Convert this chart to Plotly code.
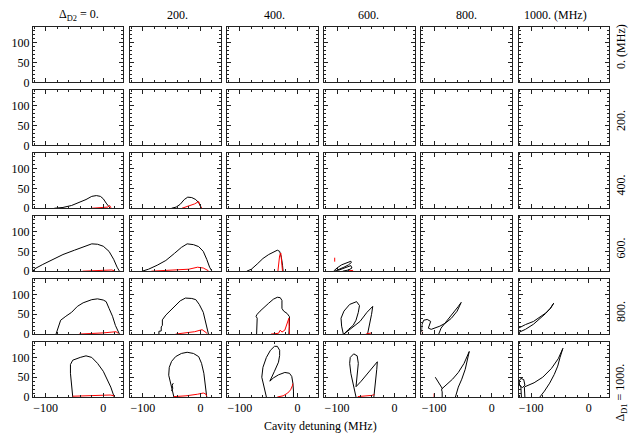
import plotly.graph_objects as go
from plotly.subplots import make_subplots

# ---------------- data ----------------
D2_labels = ["Δ<sub>D2</sub> = 0.", "200.", "400.", "600.", "800.", "1000. (MHz)"]
D1_labels = ["0. (MHz)", "200.", "400.", "600.", "800.", "Δ<sub>D1</sub> = 1000."]
x_range = [-122, 35]
y_range = [0, 140]

# Row D1=400 MHz
blk_400_0 = [(-85, 0), (-70, 2), (-55, 7), (-40, 15), (-30, 22), (-20, 30), (-12, 32), (-5, 30), (0, 24), (5, 13), (10, 3), (12, 0)]
red_400_0 = [(-20, 0), (0, 1), (8, 3), (11, 7), (13, 2), (12, 0)]
blk_400_200 = [(-50, 0), (-42, 3), (-35, 10), (-28, 22), (-22, 28), (-15, 27), (-8, 22), (-3, 14), (0, 5), (2, 0)]
red_400_200 = [(-32, 0), (-20, 5), (-10, 11), (-3, 17), (0, 8), (2, 0)]

# Row D1=600 MHz
blk_600_0 = [(-122, 0), (-119, 6), (-105, 17), (-88, 29), (-70, 42), (-50, 53), (-35, 62), (-20, 69), (-10, 68), (0, 63), (10, 50), (18, 30), (24, 10), (28, 0)]
red_600_0 = [(-36, 0), (-10, 2), (5, 4), (15, 3), (20, 0)]
blk_600_200 = [(-101, 0), (-90, 5), (-75, 15), (-60, 27), (-45, 45), (-33, 60), (-23, 69), (-12, 67), (-3, 62), (5, 50), (11, 30), (16, 10), (20, 0)]
red_600_200 = [(-85, 0), (-50, 2), (-20, 5), (-5, 10), (5, 8), (14, 1)]
blk_600_400 = [(-88, 0), (-80, 5), (-70, 18), (-60, 32), (-50, 42), (-40, 50), (-35, 53), (-31, 50), (-28, 35), (-26, 15), (-25, 0)]
red_600_400 = [(-34, 0), (-33, 20), (-31, 40), (-29, 46), (-28, 30), (-27, 10), (-26, 0)]
blk_600_600 = [(-106, 0), (-100, 8), (-92, 16), (-83, 22), (-76, 25), (-75, 22), (-80, 16), (-88, 10), (-96, 5), (-104, 0)]
blk_600_600b = [(-98, 2), (-85, 8), (-76, 14), (-74, 8), (-80, 3), (-90, 0)]
red_600_600 = [(-104, 24), (-104, 34)]
red_600_600b = [(-80, 1), (-72, 2)]

# Row D1=800 MHz
blk_800_0 = [(-82, 0), (-78, 20), (-74, 35), (-65, 45), (-55, 55), (-45, 70), (-35, 79), (-20, 87), (-10, 89), (0, 86), (5, 82), (10, 65), (16, 45), (21, 22), (25, 7), (28, 0)]
red_800_0 = [(-42, 0), (-20, 1), (0, 3), (15, 5), (22, 6), (26, 2)]
blk_800_200 = [(-72, 0), (-72, 7), (-68, 8), (-68, 18), (-66, 22), (-66, 36), (-60, 48), (-50, 62), (-43, 74), (-35, 84), (-26, 91), (-15, 90), (-8, 87), (-2, 75), (5, 55), (9, 30), (12, 10), (14, 0)]
red_800_200 = [(-43, 0), (-25, 3), (-10, 6), (0, 10), (3, 11), (8, 6), (12, 1)]
blk_800_400 = [(-71, 0), (-71, 20), (-70, 40), (-72, 45), (-70, 50), (-65, 58), (-58, 68), (-50, 78), (-42, 88), (-35, 93), (-30, 92), (-27, 85), (-27, 65), (-24, 58), (-18, 52), (-14, 44), (-14, 20), (-15, 0)]
red_800_400 = [(-46, 0), (-33, 2), (-30, 10), (-27, 5), (-22, 10), (-17, 35), (-15, 40), (-14, 0)]
blk_800_600 = [(-89, 0), (-92, 20), (-93, 40), (-88, 58), (-78, 75), (-66, 82), (-61, 72), (-63, 55), (-67, 35), (-72, 22), (-80, 12), (-88, 0)]
blk_800_600b = [(-88, 0), (-75, 15), (-60, 32), (-48, 55), (-38, 70), (-40, 50), (-43, 30), (-46, 10), (-47, 0)]
red_800_600 = [(-50, 0), (-45, 1), (-40, 3)]
blk_800_800 = [(-122, 5), (-121, 25), (-118, 35), (-112, 37), (-106, 32), (-108, 22), (-110, 15), (-105, 12), (-98, 15), (-90, 20), (-80, 28), (-70, 40), (-60, 58), (-53, 80), (-58, 70), (-66, 55), (-75, 40), (-82, 28), (-88, 15), (-92, 0)]
red_800_800 = [(-121, 0), (-120, 6)]
blk_800_1000 = [(-122, 15), (-110, 24), (-96, 32), (-85, 42), (-75, 53), (-67, 65), (-61, 78), (-66, 66), (-75, 52), (-85, 38), (-96, 25), (-110, 12), (-122, 4)]

# Row D1=1000 MHz
blk_1000_0 = [(-53, 0), (-55, 30), (-57, 60), (-57, 82), (-53, 93), (-40, 100), (-30, 104), (-20, 100), (-10, 85), (0, 65), (7, 45), (13, 25), (19, 0)]
red_1000_0 = [(-53, 2), (-20, 3), (0, 4), (12, 5), (19, 3)]
blk_1000_200 = [(-46, 0), (-49, 20), (-52, 35), (-55, 55), (-54, 75), (-50, 90), (-43, 102), (-33, 110), (-23, 113), (-12, 110), (-3, 102), (2, 85), (6, 60), (9, 30), (11, 0)]
blk_1000_200b = [(-50, 15), (-48, 22), (-49, 30), (-47, 35)]
red_1000_200 = [(-46, 1), (-25, 3), (-5, 7), (5, 10), (9, 8), (11, 2)]
blk_1000_400 = [(-54, 0), (-58, 25), (-62, 50), (-60, 75), (-54, 100), (-47, 118), (-40, 128), (-35, 128), (-31, 118), (-31, 105), (-33, 88), (-40, 65), (-48, 40), (-42, 48), (-33, 56), (-22, 62), (-14, 60), (-10, 52), (-8, 35), (-7, 15), (-7, 0)]
red_1000_400 = [(-35, 0), (-25, 3), (-17, 10), (-12, 18), (-9, 28), (-8, 34)]
blk_1000_600 = [(-67, 0), (-72, 30), (-76, 60), (-78, 85), (-77, 100), (-71, 109), (-65, 104), (-63, 85), (-64, 65), (-65, 45), (-67, 26), (-58, 40), (-48, 58), (-38, 75), (-30, 89), (-31, 70), (-33, 45), (-34, 25), (-35, 5), (-36, 0)]
red_1000_600 = [(-64, 1), (-50, 2), (-40, 4), (-35, 6)]
blk_1000_800 = [(-98, 50), (-94, 40), (-90, 30), (-86, 22), (-87, 18), (-86, 13), (-86, 0)]
blk_1000_800b = [(-87, 20), (-78, 32), (-68, 45), (-58, 62), (-48, 85), (-39, 115), (-42, 95), (-46, 70), (-52, 45), (-58, 25), (-63, 0)]
red_1000_800 = [(-100, 0), (-100, 9)]
blk_1000_1000 = [(-121, 40), (-118, 47), (-113, 44), (-111, 30), (-115, 24), (-120, 28), (-121, 40)]
blk_1000_1000b = [(-118, 26), (-117, 0)]
blk_1000_1000c = [(-112, 26), (-111, 0)]
blk_1000_1000d = [(-111, 26), (-95, 36), (-80, 50), (-65, 72), (-53, 97), (-45, 123), (-50, 100), (-54, 78), (-60, 57), (-68, 35), (-77, 15), (-85, 0)]

BLACK = "#000000"
RED = "#ff0000"
# (row, col, color, points)
curves = [
    (3, 1, BLACK, blk_400_0), (3, 1, RED, red_400_0),
    (3, 2, BLACK, blk_400_200), (3, 2, RED, red_400_200),
    (4, 1, BLACK, blk_600_0), (4, 1, RED, red_600_0),
    (4, 2, BLACK, blk_600_200), (4, 2, RED, red_600_200),
    (4, 3, BLACK, blk_600_400), (4, 3, RED, red_600_400),
    (4, 4, BLACK, blk_600_600), (4, 4, BLACK, blk_600_600b), (4, 4, RED, red_600_600), (4, 4, RED, red_600_600b),
    (5, 1, BLACK, blk_800_0), (5, 1, RED, red_800_0),
    (5, 2, BLACK, blk_800_200), (5, 2, RED, red_800_200),
    (5, 3, BLACK, blk_800_400), (5, 3, RED, red_800_400),
    (5, 4, BLACK, blk_800_600), (5, 4, BLACK, blk_800_600b), (5, 4, RED, red_800_600),
    (5, 5, BLACK, blk_800_800), (5, 5, RED, red_800_800),
    (5, 6, BLACK, blk_800_1000),
    (6, 1, BLACK, blk_1000_0), (6, 1, RED, red_1000_0),
    (6, 2, BLACK, blk_1000_200), (6, 2, BLACK, blk_1000_200b), (6, 2, RED, red_1000_200),
    (6, 3, BLACK, blk_1000_400), (6, 3, RED, red_1000_400),
    (6, 4, BLACK, blk_1000_600), (6, 4, RED, red_1000_600),
    (6, 5, BLACK, blk_1000_800), (6, 5, BLACK, blk_1000_800b), (6, 5, RED, red_1000_800),
    (6, 6, BLACK, blk_1000_1000), (6, 6, BLACK, blk_1000_1000b), (6, 6, BLACK, blk_1000_1000c), (6, 6, BLACK, blk_1000_1000d),
]

# ---------------- figure ----------------
W, H = 630, 439
ML, MR, MT, MB = 30, 21, 27, 42
PW, PH = W - ML - MR, H - MT - MB

fig = make_subplots(rows=6, cols=6, horizontal_spacing=6.7 / PW, vertical_spacing=7.5 / PH)

# an empty trace in every panel so that every frame is drawn
for r in range(1, 7):
    for c in range(1, 7):
        fig.add_trace(go.Scatter(x=[None], y=[None], mode="lines", showlegend=False,
                                 hoverinfo="skip"), row=r, col=c)

for r, c, col, pts in curves:
    fig.add_trace(go.Scatter(x=[p[0] for p in pts], y=[p[1] for p in pts], mode="lines",
                             line=dict(color=col, width=1), showlegend=False, hoverinfo="skip"),
                  row=r, col=c)

FONT = dict(family="Liberation Serif, Times New Roman, serif", size=12, color="black")
AX = "#222"
for r in range(1, 7):
    for c in range(1, 7):
        fig.update_xaxes(range=x_range, tickmode="linear", tick0=0, dtick=100,
                         showline=True, mirror="ticks", linecolor=AX, linewidth=1,
                         ticks="inside", ticklen=4, tickcolor=AX,
                         minor=dict(ticks="inside", ticklen=2, dtick=20, tick0=0, tickcolor=AX),
                         showgrid=False, zeroline=False, showticklabels=(r == 6),
                         tickfont=FONT, row=r, col=c)
        fig.update_yaxes(range=y_range, tickmode="linear", tick0=0, dtick=50,
                         showline=True, mirror="ticks", linecolor=AX, linewidth=1,
                         ticks="inside", ticklen=4, tickcolor=AX,
                         minor=dict(ticks="inside", ticklen=2, dtick=10, tick0=0, tickcolor=AX),
                         showgrid=False, zeroline=False, showticklabels=(c == 1),
                         tickfont=FONT, row=r, col=c)

def px_x(p):
    return (p - ML) / PW

def px_y(p):
    return (H - MB - p) / PH

col_title_x = [76, 175, 273, 367, 466, 555]
for lab, xc in zip(D2_labels, col_title_x):
    fig.add_annotation(text=lab, x=px_x(xc), y=px_y(15), xref="paper", yref="paper",
                       xanchor="center", yanchor="middle", showarrow=False, font=FONT)

row_label_y = [46, 120, 184.5, 247.5, 311, 392.5]
for lab, yc in zip(D1_labels, row_label_y):
    fig.add_annotation(text=lab, x=px_x(621), y=px_y(yc), xref="paper", yref="paper",
                       xanchor="center", yanchor="middle", textangle=-90, showarrow=False, font=FONT)

fig.add_annotation(text="Cavity detuning (MHz)", x=px_x(319), y=px_y(426), xref="paper", yref="paper",
                   xanchor="center", yanchor="middle", showarrow=False, font=FONT)

fig.update_layout(width=W, height=H, margin=dict(l=ML, r=MR, t=MT, b=MB),
                  plot_bgcolor="white", paper_bgcolor="white", font=FONT)

fig.write_html("out.html", config={"displayModeBar": False},
               post_script="document.body.style.margin='0';document.body.style.padding='0';")
